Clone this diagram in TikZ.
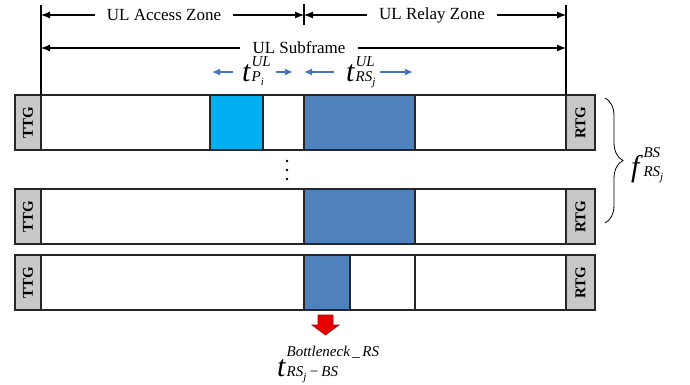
\documentclass[tikz,border=0pt]{standalone}
\usepackage{fontspec}
\setmainfont{Liberation Serif}
\usetikzlibrary{positioning, arrows.meta, decorations.pathreplacing}

\definecolor{guardgray}{RGB}{200,200,200}
\definecolor{relayblue}{RGB}{79,129,189}
\definecolor{accessblue}{RGB}{0,176,240}
\definecolor{durblue}{RGB}{68,114,196}
\definecolor{bneckred}{RGB}{230,0,0}

% italic symbol with stacked upper and lower index
\newcommand{\symbig}{\fontsize{30}{30}\selectfont}
\newcommand{\symsmall}{\fontsize{15}{14}\selectfont}
\newcommand{\lowidx}[1]{\raisebox{-4pt}{\fontsize{11}{11}\selectfont\textit{#1}}}
\newcommand{\idxsym}[4][0pt]{{\symbig\textit{#2}}\kern0.5pt%
  {\symsmall\begin{tabular}[b]{@{}l@{}}\textit{#3}\\[#1]\textit{#4}\end{tabular}}}

\tikzset{
  cell/.style={draw=black!85, line width=1.2pt},
  guard/.style={cell, fill=guardgray, rotate=90, inner sep=0pt,
    minimum width=55pt, minimum height=26pt,
    font=\fontsize{15}{17}\selectfont\bfseries},
  zone/.style={inner xsep=12pt, inner ysep=0pt, font=\fontsize{17}{19}\selectfont},
  span/.style={line width=1.1pt, -{Latex[length=9pt,width=7pt]}},
  dur/.style={draw=durblue, line width=1.5pt, -{Latex[length=8pt,width=7pt]}},
  symlbl/.style={inner sep=0pt, anchor=base west},
}

\begin{document}
\begin{tikzpicture}[x=1pt,y=-1pt]
\useasboundingbox (0,0) rectangle (690,384);

% frame rows with transmit/receive guards
\foreach \r/\top in {1/95, 2/189, 3/255} {
  \draw[cell, fill=white] (41,\top) rectangle ++(525,55);
  \node[guard] (ttg\r) at (28,\top+27.5) {TTG};
  \node[guard, minimum height=29pt] (rtg\r) at (580.5,\top+27.5) {RTG};
}

% access and relay bursts
\draw[cell, fill=accessblue] (210,95) rectangle (263,150);
\draw[cell, fill=relayblue] (304,95) rectangle (415,150);
\draw[cell, fill=relayblue] (304,189) rectangle (415,244);
\draw[cell, fill=relayblue] (304,255) rectangle (350,310);
\draw[cell] (350,255) rectangle (415,310);

% more rows in between
\foreach \y in {161,170,179}
  \fill (287,\y) circle (1.4);

% zone boundaries
\coordinate (subL) at (41,5);
\coordinate (zoneM) at (304,4);
\coordinate (subR) at (566,5);
\draw[line width=1.1pt] (subL) -- (41,95);
\draw[line width=1.1pt] (zoneM) -- (304,25);
\draw[line width=1.1pt] (subR) -- (566,95);

\coordinate (accL) at (41,15);
\coordinate (accR) at (304,15);
\coordinate (relR) at (566,15);
\coordinate (sfL) at (41,48);
\coordinate (sfR) at (566,48);

\node[zone] (access) at (164,15) {UL Access Zone};
\draw[span] (access.west) -- (accL);
\draw[span] (access.east) -- (accR);

\node[zone] (relay) at (432,15) {UL Relay Zone};
\draw[span] (relay.west) -- (accR);
\draw[span] (relay.east) -- (relR);

\node[zone] (subframe) at (299,48) {UL Subframe};
\draw[span] (subframe.west) -- (sfL);
\draw[span] (subframe.east) -- (sfR);

% burst durations
\coordinate (pL) at (212,72);
\coordinate (pR) at (293,72);
\coordinate (rsL) at (304,72);
\coordinate (rsR) at (413,72);
\node[symlbl] (tp) at (242,81) {\idxsym{t}{UL}{P\lowidx{i}}};
\draw[dur] ([xshift=-9pt]tp.west |- pL) -- (pL);
\draw[dur] ([xshift=5pt]tp.east |- pR) -- (pR);
\node[symlbl] (trs) at (346,81) {\idxsym{t}{UL}{RS\lowidx{j}}};
\draw[dur] ([xshift=-12pt]trs.west |- rsL) -- (rsL);
\draw[dur] ([xshift=4pt]trs.east |- rsR) -- (rsR);

% relay frequency reuse
\draw[line width=0.8pt, decorate, decoration={brace, amplitude=18pt}]
  (605,98) -- (605,223);
\node[symlbl] (freq) at (631,176) {\idxsym[4pt]{f}{BS}{RS\lowidx{j}}};

% bottleneck marker
\draw[fill=bneckred, draw=red!70!black, line width=0.6pt]
  (318,315) -- (333,315) -- (333,325) -- (339,325) -- (325.5,335)
  -- (312,325) -- (318,325) -- cycle;
\node[symlbl] (bneck) at (277,376)
  {\idxsym[5pt]{t}{Bottleneck\,\_\,RS}{RS\lowidx{j}\,−\,BS}};
\end{tikzpicture}
\end{document}
